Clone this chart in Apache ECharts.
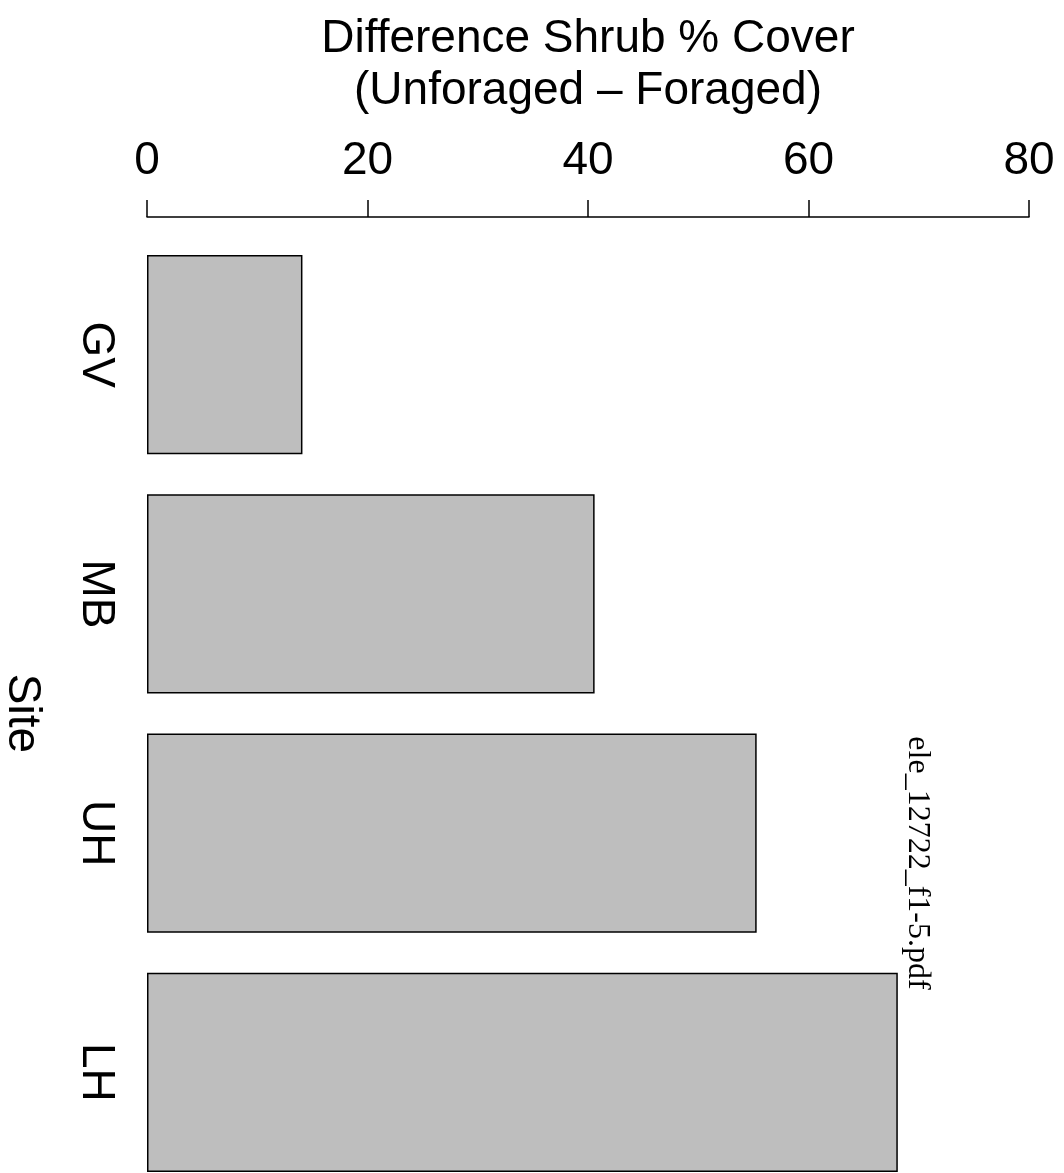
<!DOCTYPE html>
<html><head><meta charset="utf-8">
<script src="https://cdn.jsdelivr.net/npm/echarts@6/dist/echarts.min.js"></script>
<style>html,body{margin:0;padding:0;background:#fff}#c{width:1064px;height:1173px}</style>
</head><body><div id="c"></div>
<script>
const sites = ['GV', 'MB', 'UH', 'LH'];
const diffCover = [14.1, 40.6, 55.3, 68.1];
const xTicks = [0, 20, 40, 60, 80];

const chart = echarts.init(document.getElementById('c'), null, {renderer: 'canvas'});
const FONT = '"Liberation Sans", Arial, Helvetica, sans-serif';
chart.setOption({
  animation: false,
  backgroundColor: '#fff',
  grid: {left: 147, right: 35, top: 235, height: 957, containLabel: false, outerBoundsMode: 'none'},
  xAxis: {
    type: 'value', position: 'top', offset: 18,
    min: xTicks[0], max: xTicks[xTicks.length - 1], interval: 20,
    name: 'Difference Shrub % Cover\n(Unforaged \u2013 Foraged)',
    nameLocation: 'middle', nameGap: 100,
    nameTextStyle: {fontFamily: FONT, fontSize: 46, color: '#000', lineHeight: 52},
    axisLine: {show: true, lineStyle: {color: '#000', width: 1.5}},
    axisTick: {show: true, length: 17, lineStyle: {color: '#000', width: 1.5}},
    axisLabel: {fontFamily: FONT, fontSize: 46, color: '#000', margin: 33},
    splitLine: {show: false}
  },
  yAxis: {
    type: 'category', data: sites, inverse: true,
    name: 'Site', nameLocation: 'middle', nameGap: 102, nameRotate: -90,
    nameTextStyle: {fontFamily: FONT, fontSize: 46, color: '#000'},
    axisLine: {show: false}, axisTick: {show: false},
    axisLabel: {fontFamily: FONT, fontSize: 46, color: '#000', rotate: -90, margin: 28}
  },
  series: [{
    type: 'bar', data: diffCover, barCategoryGap: '16.7%',
    itemStyle: {color: '#bebebe', borderColor: '#000', borderWidth: 1.5}
  }],
  graphic: [{
    type: 'text', x: 917, y: 863, rotation: -Math.PI / 2,
    style: {text: 'ele_12722_f1-5.pdf', font: '32px "Liberation Serif", "Times New Roman", serif',
      fill: '#000', align: 'center', verticalAlign: 'middle'}
  }]
});
</script></body></html>
